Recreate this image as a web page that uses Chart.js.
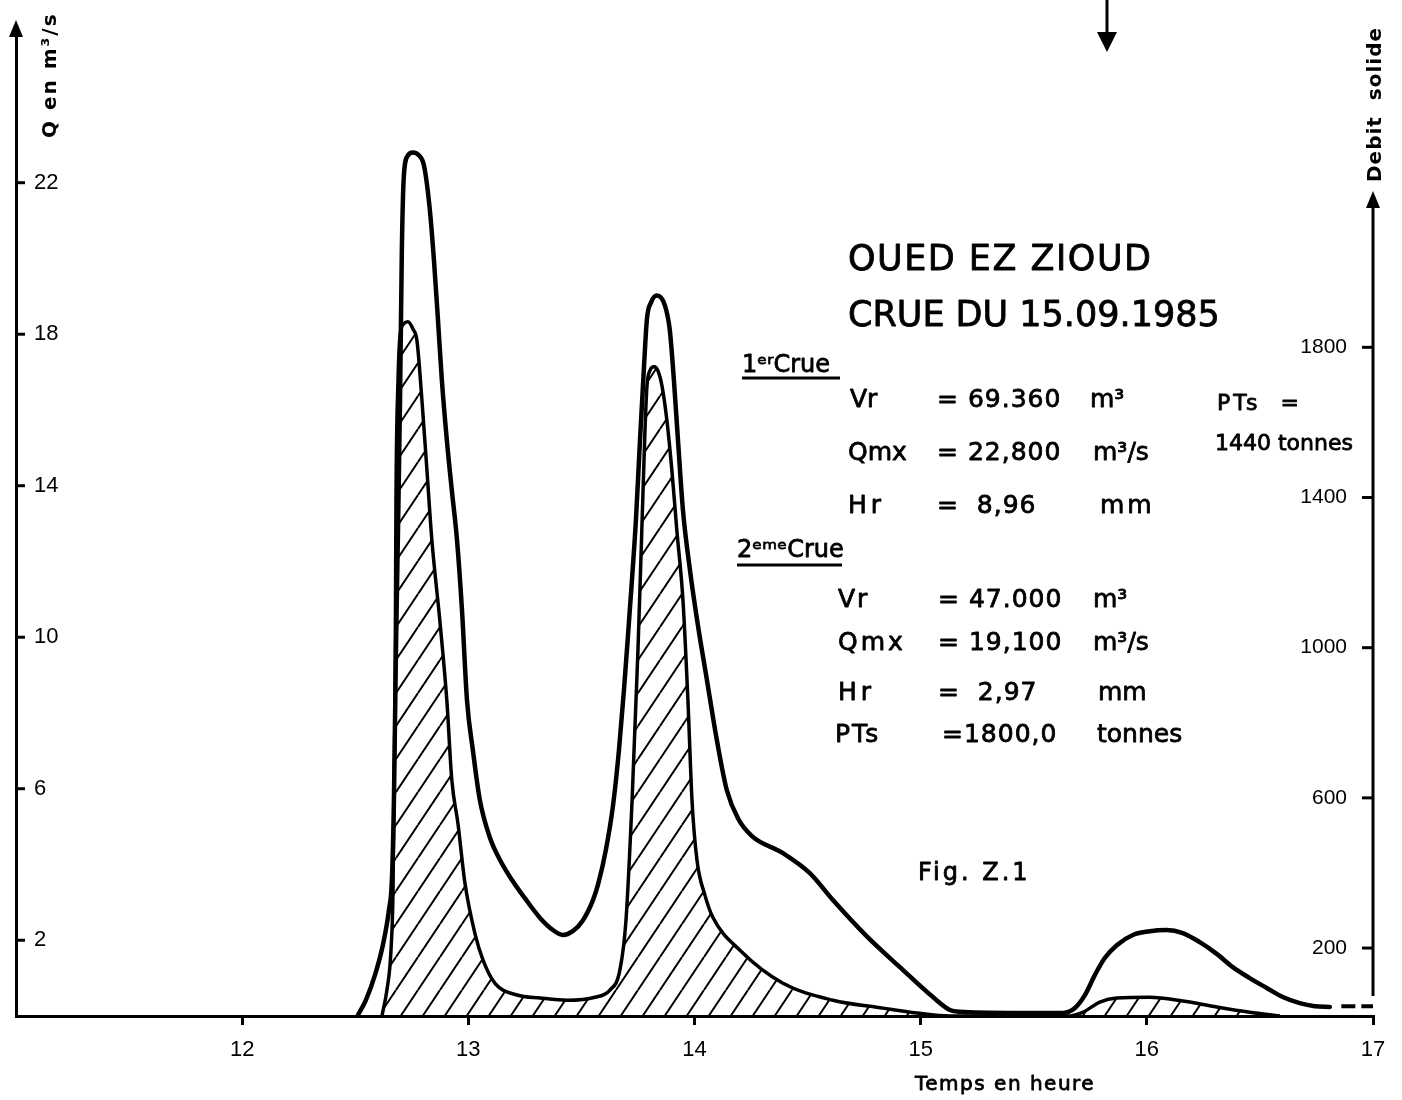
<!DOCTYPE html>
<html>
<head>
<meta charset="utf-8">
<script src="https://cdn.jsdelivr.net/npm/chart.js"></script>
<style>
  html, body { margin: 0; padding: 0; background: #fff; }
  #wrap { width: 1402px; height: 1100px; }
</style>
</head>
<body>
<div id="wrap"><canvas id="chart" width="1402" height="1100"></canvas></div>
<script>
// ticks
const hourTicks = [12, 13, 14, 15, 16, 17];
const qTicks = [2, 6, 10, 14, 18, 22];
const solidTicks = [200, 600, 1000, 1400, 1800];

// debit liquide Q (m3/s) - courbe exterieure
const qHours = [12.51, 12.547, 12.587, 12.622, 12.649, 12.662, 12.671, 12.68, 12.689, 12.698, 12.706, 12.715,
  12.733, 12.755, 12.782, 12.804, 12.83, 12.848, 12.866, 12.883, 12.905, 12.927, 12.95, 12.972, 12.994,
  13.02, 13.051, 13.096, 13.14, 13.193, 13.25, 13.317, 13.374, 13.418, 13.462, 13.507, 13.551, 13.573, 13.608,
  13.64, 13.666, 13.688, 13.706, 13.724, 13.741, 13.759, 13.777, 13.79, 13.808, 13.834, 13.869, 13.891, 13.909,
  13.927, 13.949, 13.98, 14.015, 14.055, 14.099, 14.143, 14.192, 14.254, 14.391, 14.51, 14.612, 14.762, 14.908,
  15.054, 15.129, 15.173, 15.394, 15.629, 15.682, 15.726, 15.77, 15.814, 15.867, 15.938, 16.013, 16.088, 16.159,
  16.234, 16.309, 16.38, 16.455, 16.53, 16.601, 16.676, 16.743, 16.809];
const qValues = [0, 0.42, 1.08, 1.87, 2.8, 3.59, 5.7, 9.66, 12.82, 16.25, 20.21, 22.19,
  22.72, 22.8, 22.72, 22.45, 21.27, 19.95, 18.36, 16.78, 15.2, 13.88, 12.56, 10.71, 8.34,
  7.02, 5.7, 4.7, 4.12, 3.59, 3.11, 2.59, 2.27, 2.14, 2.24, 2.53, 3.06, 3.46, 4.38,
  5.57, 7.02, 8.6, 10.05, 11.56, 13.09, 15.2, 17.18, 18.42, 18.84, 19.02, 18.76, 18.1, 16.78,
  15.2, 13.35, 11.77, 10.32, 8.87, 7.28, 5.96, 5.22, 4.75, 4.3, 3.77, 3.06, 2.1, 1.29,
  0.5, 0.16, 0.11, 0.08, 0.08, 0.21, 0.55, 1.08, 1.53, 1.87, 2.14, 2.24, 2.27, 2.19,
  1.95, 1.64, 1.29, 1.0, 0.74, 0.5, 0.34, 0.26, 0.24];
const tailHours = [16.86, 17.01];
const tailValues = [0.26, 0.26];

// debit solide (hachure)
const solidHours = [12.618, 12.64, 12.658, 12.667, 12.676, 12.68, 12.689, 12.698, 12.715, 12.733, 12.755, 12.773,
  12.795, 12.817, 12.839, 12.874, 12.905, 12.927, 12.954, 12.985, 13.029, 13.065, 13.118, 13.215, 13.317, 13.436,
  13.56, 13.626, 13.67, 13.697, 13.724, 13.75, 13.767, 13.781, 13.79, 13.803, 13.821, 13.838, 13.856, 13.878,
  13.9, 13.922, 13.949, 13.971, 13.989, 14.011, 14.046, 14.081, 14.201, 14.391, 14.612, 14.833, 14.983, 15.129,
  15.646, 15.717, 15.792, 15.867, 16.013, 16.159, 16.309, 16.455, 16.588];
const solidValues = [19, 88, 194, 354, 859, 1392, 1711, 1831, 1863, 1868, 1849, 1817,
  1658, 1472, 1285, 1072, 859, 647, 532, 373, 239, 168, 106, 75, 67, 61,
  69, 88, 141, 274, 593, 993, 1312, 1578, 1698, 1738, 1748, 1738, 1698, 1605,
  1472, 1312, 1126, 859, 593, 434, 341, 282, 194, 106, 61, 40, 27, 19,
  19, 29, 56, 67, 69, 59, 43, 29, 19];

const pts = (xs, ys) => xs.map((x, i) => ({ x: x, y: ys[i] }));

function makeHatch() {
  const c = document.createElement('canvas');
  c.width = 22; c.height = 33;
  const g = c.getContext('2d');
  g.strokeStyle = '#000';
  g.lineWidth = 2;
  g.beginPath();
  g.moveTo(0, 33); g.lineTo(22, 0);
  g.moveTo(-22, 33); g.lineTo(0, 0);
  g.moveTo(22, 33); g.lineTo(44, 0);
  g.stroke();
  return g.createPattern(c, 'repeat');
}

const BODY = '"DejaVu Sans", sans-serif';

// text with a light outline so it looks like the inked lettering
function txt(ctx, s, x, y, size, opts) {
  opts = opts || {};
  ctx.font = (opts.weight || 'normal') + ' ' + size + 'px ' + BODY;
  ctx.letterSpacing = (opts.ls || 0) + 'px';
  ctx.textAlign = opts.align || 'left';
  ctx.textBaseline = 'alphabetic';
  ctx.fillText(s, x, y);
  if (opts.weight !== 'bold') {
    ctx.save();
    ctx.lineWidth = 0.8;
    ctx.lineJoin = 'round';
    ctx.strokeText(s, x, y);
    ctx.restore();
  }
  ctx.letterSpacing = '0px';
}

const decor = {
  id: 'decor',
  afterDraw(chart) {
    const { ctx, chartArea: a, scales } = chart;
    const y = scales.y, y2 = scales.y2;
    ctx.save();
    ctx.strokeStyle = '#000';
    ctx.fillStyle = '#000';
    ctx.lineWidth = 3;
    const seg = (x1, y1, x2, y2p) => { ctx.beginPath(); ctx.moveTo(x1, y1); ctx.lineTo(x2, y2p); ctx.stroke(); };
    const tri = (x, tip, dir) => {
      ctx.beginPath();
      ctx.moveTo(x, tip);
      ctx.lineTo(x - 7, tip + dir * 17);
      ctx.lineTo(x + 7, tip + dir * 17);
      ctx.closePath(); ctx.fill();
    };

    // axe gauche
    qTicks.forEach(v => { const p = y.getPixelForValue(v); seg(a.left, p, a.left + 9, p); });
    tri(a.left, 20, 1);

    // axe droit
    seg(a.right, 200, a.right, 996);
    solidTicks.forEach(v => { const p = y2.getPixelForValue(v); seg(a.right - 11, p, a.right, p); });
    tri(a.right, 191, 1);

    // fleche en haut
    seg(1107, 0, 1107, 36);
    ctx.beginPath(); ctx.moveTo(1107, 52); ctx.lineTo(1097, 32); ctx.lineTo(1117, 32); ctx.closePath(); ctx.fill();

    // titres d'axes verticaux
    ctx.save();
    ctx.translate(56, 138); ctx.rotate(-Math.PI / 2);
    txt(ctx, 'Q en m³/s', 0, 0, 20, { weight: 'bold', ls: 2 });
    ctx.restore();
    ctx.save();
    ctx.translate(a.right + 8, 182); ctx.rotate(-Math.PI / 2);
    txt(ctx, 'Debit  solide', 0, 0, 20, { weight: 'bold', ls: 1 });
    ctx.restore();

    txt(ctx, 'Temps en heure', 915, 1090, 20, { ls: 1.5 });

    // titre
    txt(ctx, 'OUED EZ ZIOUD', 848, 270, 35, { ls: 1.5 });
    txt(ctx, 'CRUE DU 15.09.1985', 848, 326, 35);

    // 1ere crue
    txt(ctx, '1ᵉʳCrue', 742, 372, 24);
    seg(742, 378, 840, 378);
    txt(ctx, 'Vr', 850, 407, 25);   txt(ctx, '= 69.360', 937, 407, 25, { ls: 1 }); txt(ctx, 'm³', 1090, 407, 25);
    txt(ctx, 'Qmx', 848, 460, 25);  txt(ctx, '= 22,800', 937, 460, 25, { ls: 1 }); txt(ctx, 'm³/s', 1093, 460, 25);
    txt(ctx, 'Hr', 848, 513, 25, { ls: 4 }); txt(ctx, '=  8,96', 937, 513, 25, { ls: 1 }); txt(ctx, 'mm', 1100, 513, 25, { ls: 3 });

    txt(ctx, 'PTs  =', 1217, 410, 22, { ls: 3 });
    txt(ctx, '1440 tonnes', 1215, 450, 22);

    // 2eme crue
    txt(ctx, '2ᵉᵐᵉCrue', 737, 557, 24);
    seg(737, 565, 842, 565);
    txt(ctx, 'Vr', 838, 607, 25, { ls: 2 }); txt(ctx, '= 47.000', 938, 607, 25, { ls: 1 }); txt(ctx, 'm³', 1093, 607, 25);
    txt(ctx, 'Qmx', 838, 650, 25, { ls: 3 }); txt(ctx, '= 19,100', 938, 650, 25, { ls: 1 }); txt(ctx, 'm³/s', 1093, 650, 25);
    txt(ctx, 'Hr', 838, 700, 25, { ls: 4 }); txt(ctx, '=  2,97', 938, 700, 25, { ls: 1 }); txt(ctx, 'mm', 1098, 700, 25);
    txt(ctx, 'PTs', 835, 742, 25, { ls: 2 }); txt(ctx, '=1800,0', 942, 742, 25, { ls: 1 }); txt(ctx, 'tonnes', 1097, 742, 25);

    txt(ctx, 'Fig. Z.1', 918, 880, 24, { ls: 3 });
    ctx.restore();
  }
};

const ctx = document.getElementById('chart').getContext('2d');
new Chart(ctx, {
  type: 'line',
  data: {
    datasets: [
      {
        label: 'Q',
        data: pts(qHours, qValues),
        yAxisID: 'y',
        borderColor: '#000',
        borderWidth: 4.5,
        pointRadius: 0,
        fill: false,
        cubicInterpolationMode: 'monotone',
        borderJoinStyle: 'round',
        borderCapStyle: 'round'
      },
      {
        label: 'Q suite',
        data: pts(tailHours, tailValues),
        yAxisID: 'y',
        borderColor: '#000',
        borderWidth: 4,
        borderDash: [14, 6],
        pointRadius: 0,
        fill: false
      },
      {
        label: 'Debit solide',
        data: pts(solidHours, solidValues),
        yAxisID: 'y2',
        borderColor: '#000',
        borderWidth: 3.5,
        backgroundColor: makeHatch(),
        pointRadius: 0,
        fill: 'start',
        cubicInterpolationMode: 'monotone',
        borderJoinStyle: 'round'
      }
    ]
  },
  options: {
    responsive: false,
    animation: false,
    layout: { padding: { top: 30 } },
    plugins: { legend: { display: false }, tooltip: { enabled: false } },
    scales: {
      x: {
        type: 'linear',
        position: 'bottom',
        min: 11, max: 17,
        afterBuildTicks: s => { s.ticks = hourTicks.map(v => ({ value: v })); },
        afterFit: s => { s.height = 84; },
        grid: { drawOnChartArea: false, drawTicks: true, tickLength: 9, lineWidth: 3, color: '#000' },
        border: { display: true, width: 3, color: '#000' },
        ticks: { color: '#000', padding: 12, font: { family: '"Liberation Sans", sans-serif', size: 22 }, maxRotation: 0,
          callback: v => String(v) }
      },
      y: {
        type: 'linear',
        position: 'left',
        min: 0, max: 26,
        afterBuildTicks: s => { s.ticks = qTicks.map(v => ({ value: v })); },
        afterFit: s => { s.width = 16; },
        grid: { display: false },
        border: { display: true, width: 3, color: '#000' },
        ticks: { mirror: true, padding: 18, color: '#000', font: { family: '"Liberation Sans", sans-serif', size: 22 },
          callback: v => String(v) }
      },
      y2: {
        type: 'linear',
        position: 'right',
        min: 19, max: 2642,
        afterBuildTicks: s => { s.ticks = solidTicks.map(v => ({ value: v })); },
        afterFit: s => { s.width = 29; },
        grid: { display: false },
        border: { display: false },
        ticks: { mirror: true, padding: -26, color: '#000', font: { family: '"Liberation Sans", sans-serif', size: 21 },
          callback: v => String(v) }
      }
    }
  },
  plugins: [decor]
});
</script>
</body>
</html>
